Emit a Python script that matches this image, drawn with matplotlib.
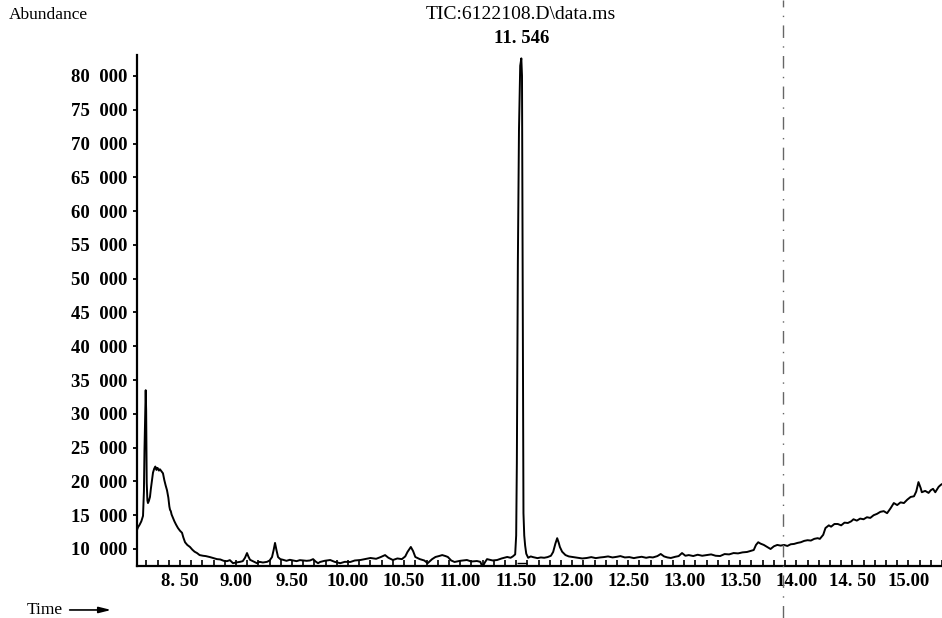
import matplotlib
matplotlib.use('Agg')
import matplotlib.pyplot as plt
import matplotlib.transforms as mtransforms
from matplotlib.lines import Line2D
import numpy as np

# chromatogram (time in min, abundance)
time = [8.116, 8.125, 8.14, 8.155, 8.170, 8.178, 8.183, 8.188, 8.194, 8.198, 8.203, 8.209, 8.214,
        8.222, 8.232, 8.240, 8.247, 8.259, 8.270, 8.280, 8.290, 8.300, 8.312, 8.321, 8.334, 8.348,
        8.360, 8.372, 8.384, 8.396, 8.405, 8.411, 8.418, 8.425, 8.437, 8.450, 8.465, 8.482, 8.500,
        8.518, 8.530, 8.545, 8.565, 8.589, 8.610, 8.630, 8.652, 8.675, 8.705, 8.73, 8.768, 8.80,
        8.830, 8.86, 8.89, 8.920, 8.945, 8.973, 9.00, 9.036, 9.06, 9.080, 9.098, 9.110, 9.125, 9.15,
        9.187, 9.21, 9.24, 9.277, 9.30, 9.321, 9.335, 9.348, 9.360, 9.375, 9.395, 9.420, 9.45, 9.48,
        9.509, 9.54, 9.57, 9.598, 9.63, 9.66, 9.688, 9.71, 9.732, 9.75,
        9.79, 9.84, 9.88, 9.93, 9.97, 10.02, 10.06, 10.11, 10.15, 10.20, 10.25, 10.29, 10.33, 10.36,
        10.40, 10.44, 10.48, 10.51, 10.53, 10.56, 10.58, 10.60, 10.64, 10.68, 10.71, 10.75, 10.78,
        10.81, 10.84, 10.87, 10.89, 10.92, 10.95, 11.00, 11.06, 11.10, 11.15, 11.18, 11.20, 11.22,
        11.24, 11.29, 11.33, 11.37, 11.42, 11.45, 11.47,
        11.491, 11.500, 11.506, 11.515, 11.525, 11.536, 11.546, 11.552, 11.557, 11.560, 11.565,
        11.572, 11.580, 11.590, 11.607,
        11.63, 11.65, 11.69, 11.72, 11.75, 11.78, 11.81, 11.83, 11.85, 11.866, 11.88, 11.89, 11.91,
        11.94, 11.97, 12.01, 12.05, 12.09, 12.13, 12.17, 12.21, 12.25, 12.28, 12.32, 12.36, 12.40,
        12.43, 12.47, 12.51, 12.55, 12.58, 12.62, 12.66, 12.69, 12.72, 12.76, 12.79, 12.82, 12.85,
        12.88, 12.92, 12.95, 12.98, 13.01, 13.04, 13.08, 13.12, 13.16, 13.20, 13.24, 13.28, 13.32,
        13.36, 13.40, 13.44, 13.48, 13.52, 13.56, 13.59, 13.62, 13.64, 13.66, 13.68, 13.71, 13.74,
        13.77, 13.80, 13.83, 13.86, 13.89, 13.92, 13.95, 13.98, 14.01, 14.04, 14.07, 14.10, 14.13,
        14.16, 14.19, 14.21, 14.24, 14.25, 14.26, 14.29, 14.31, 14.34, 14.37, 14.40, 14.43, 14.46,
        14.49, 14.51, 14.54, 14.57, 14.60, 14.63, 14.66, 14.69, 14.72, 14.75, 14.78, 14.81, 14.84,
        14.87, 14.90, 14.93, 14.96, 14.99, 15.02, 15.05, 15.07, 15.09, 15.11, 15.12, 15.15, 15.18,
        15.20, 15.22, 15.24, 15.27, 15.29, 15.30]
abundance = [12800, 13200, 13600, 14100, 14900, 18500, 24600, 29000, 33500, 30500, 19800, 17200, 16800,
             17100, 17700, 18900, 19800, 21300, 21900, 22200, 21700, 22000, 21600, 21800, 21500, 21200,
             20200, 19400, 18700, 17600, 16300, 15800, 15600, 15100, 14600, 14100, 13600, 13100, 12700,
             12400, 11700, 11000, 10600, 10300, 9900, 9600, 9400, 9100, 9000, 8950, 8800, 8650,
             8500, 8450, 8250, 8200, 8350, 7900, 8000, 8100, 8200, 8700, 9400, 8900, 8400, 8200,
             7900, 8100, 8000, 8100, 8300, 8800, 9800, 10900, 9900, 8800, 8500, 8400, 8250, 8400,
             8300, 8200, 8350, 8300, 8250, 8300, 8500, 8150, 7900, 8080,
             8250, 8370, 8100, 7900, 8100, 8080, 8300, 8370, 8500, 8670, 8550, 8800, 9100, 8700,
             8370, 8600, 8500, 8900, 9560, 10300, 9700, 8820, 8500, 8300, 7900, 8500, 8820,
             8950, 9100, 8950, 8820, 8300, 8080, 8250, 8370, 8150, 8220, 8100, 7340, 8000,
             8500, 8300, 8370, 8600, 8820, 8700, 8900,
             9200, 12000, 22700, 52300, 72000, 81500, 82600, 80000, 55000, 37500, 15300,
             12000, 10500, 9300, 8700,
             8900, 8800, 8650, 8750, 8700, 8800, 9000, 9560, 10800, 11600, 10900, 10300, 9600,
             9100, 8900, 8800, 8700, 8600, 8670, 8800, 8650, 8750, 8800, 8900, 8750, 8850,
             8950, 8750, 8800, 8650, 8750, 8850, 8700, 8800, 8750, 8950, 9260, 8900, 8750,
             8670, 8850, 8950, 9400, 9000, 9100, 8960, 9150, 9000, 9100, 9200, 9000, 8960,
             9250, 9200, 9400, 9350, 9500, 9560, 9700, 9850, 10600, 11000, 10800, 10600, 10300,
             10000, 10400, 10600, 10500, 10600, 10450, 10700, 10750, 10900, 11000, 11200, 11300, 11250,
             11500, 11600, 11500, 12100, 12600, 13100, 13500, 13300, 13700, 13700, 13500, 13900, 13850,
             14100, 14400, 14200, 14500, 14400, 14700, 14600, 15000, 15200, 15500, 15600, 15300, 16000,
             16800, 16500, 16900, 16800, 17300, 17700, 17800, 18500, 19900, 19000, 18400, 18600, 18300,
             18700, 18900, 18400, 19200, 19500, 19600]

# integration baseline drawn under the main peak
base_start, base_end, base_level = 11.509, 11.598, 7950

peak_time = 11.546
peak_label = '11. 546'
title = 'TIC:6122108.D\\data.ms'

y_ticks = [10000, 15000, 20000, 25000, 30000, 35000, 40000, 45000,
           50000, 55000, 60000, 65000, 70000, 75000, 80000]
y_labels = ['10  000', '15  000', '20  000', '25  000', '30  000', '35  000', '40  000', '45  000',
            '50  000', '55  000', '60  000', '65  000', '70  000', '75  000', '80  000']
x_ticks = [8.5, 9.0, 9.5, 10.0, 10.5, 11.0, 11.5, 12.0, 12.5, 13.0, 13.5, 14.0, 14.5, 15.0]
x_labels = ['8. 50', '9.00', '9.50', '10.00', '10.50', '11.00', '11.50', '12.00',
            '12.50', '13.00', '13.50', '14.00', '14. 50', '15.00']

plt.rcParams['font.family'] = ['Liberation Serif', 'DejaVu Serif']

fig = plt.figure(figsize=(9.42, 6.18), dpi=100)
ax = fig.add_axes([0.1454, 0.0841, 0.8546, 0.8269])

ax.plot(time, abundance, color='black', lw=1.4)
ax.hlines(base_level, base_start, base_end, color='black', lw=1.0)

ax.set_xlim(8.116, 15.30)
ax.set_ylim(7480, 83100)

ax.spines['top'].set_visible(False)
ax.spines['right'].set_visible(False)
ax.spines['left'].set_linewidth(1.6)
ax.spines['bottom'].set_linewidth(1.6)

ax.set_yticks(y_ticks)
ax.set_yticklabels(y_labels, fontsize=13.5, fontweight='bold')
ax.tick_params(axis='y', direction='out', length=3, width=1.3, pad=4)

ax.set_xticks(x_ticks)
ax.set_xticklabels(x_labels, fontsize=13.5, fontweight='bold')
ax.set_xticks(np.arange(8.2, 15.31, 0.1), minor=True)
ax.tick_params(axis='x', which='both', direction='in', length=4, width=1.2, pad=5)

# texts above and below the plot
fig.text(0.009, 0.976, 'Abundance', fontsize=12.5, va='center', ha='left')
fig.text(0.553, 0.976, title, fontsize=14, va='center', ha='center')
trans = mtransforms.blended_transform_factory(ax.transData, fig.transFigure)
ax.text(peak_time, 0.938, peak_label, transform=trans, fontsize=13.5, fontweight='bold',
        ha='center', va='center', clip_on=False)

fig.text(0.028, 0.013, 'Time', fontsize=12.5, va='center', ha='left')
fig.patches.append(plt.matplotlib.patches.FancyArrowPatch(
    (0.071, 0.013), (0.121, 0.013), transform=fig.transFigure,
    arrowstyle='-|>,head_length=0.6,head_width=0.15', color='black', lw=1.2,
    mutation_scale=12))

# scanner fold line
fig.add_artist(Line2D([0.8312, 0.8312], [0.0, 1.0], transform=fig.transFigure,
                      color='#666666', lw=1.0, linestyle=(0, (9, 6, 1, 6))))

fig.savefig('out.png', dpi=100)
